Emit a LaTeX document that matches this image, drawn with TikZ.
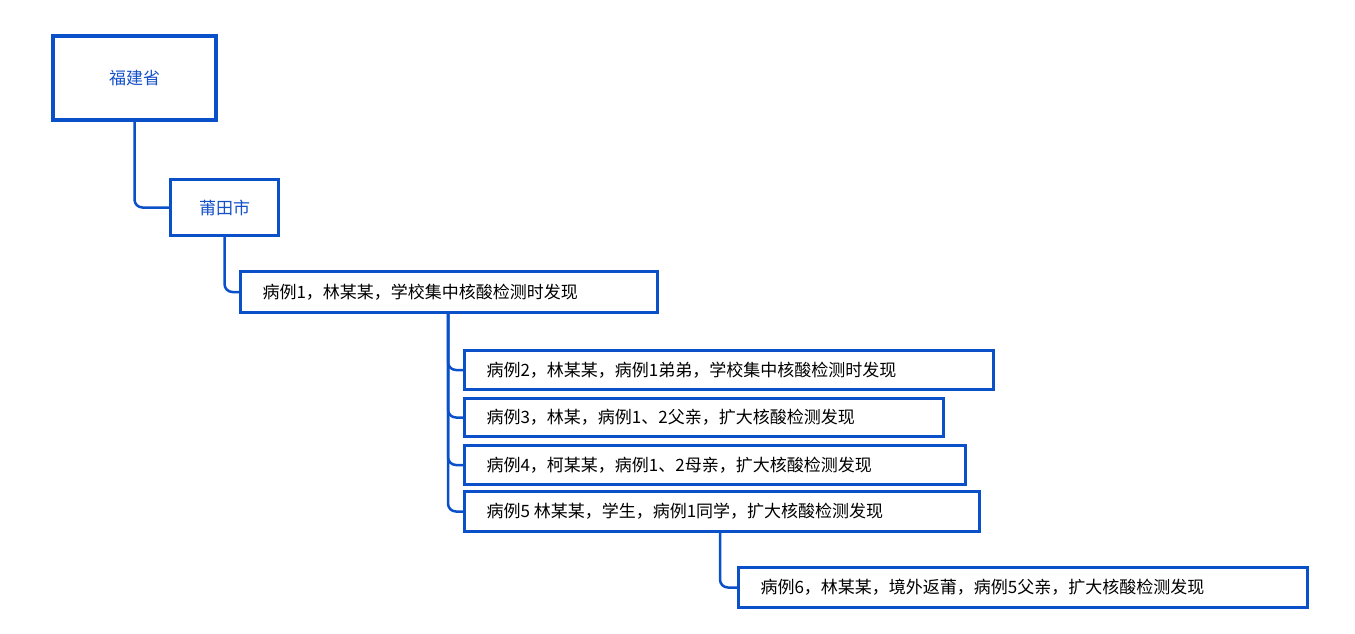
\documentclass[tikz,border=0pt]{standalone}
\usepackage{fontspec}
\setmainfont{Noto Sans CJK SC}
\begin{document}
\begin{tikzpicture}[x=1pt,y=-1pt,
  bx/.style={draw=boxblue,line width=3pt,fill=white,inner sep=0pt},
  ln/.style={draw=boxblue,line width=2.5pt,rounded corners=8pt}]
\definecolor{boxblue}{RGB}{10,80,200}
\definecolor{txtblue}{RGB}{20,80,200}
\useasboundingbox (0,0) rectangle (1355,633);
\tikzset{txt/.style={font=\fontsize{17}{20}\selectfont,anchor=west}}
\node[bx,line width=4pt,minimum width=163pt,minimum height=84pt,anchor=north west] (a) at (51,34) {};
\node[text=txtblue,font=\fontsize{17}{20}\selectfont] at (a.center) {福建省};
\node[bx,minimum width=108pt,minimum height=56pt,anchor=north west] (b) at (169,178) {};
\node[text=txtblue,font=\fontsize{17}{20}\selectfont] at (b.center) {莆田市};
\node[bx,minimum width=417pt,minimum height=41pt,anchor=north west] (c1) at (239,270) {};
\node[txt] at ([xshift=20pt]c1.west) {病例1，林某某，学校集中核酸检测时发现};
\node[bx,minimum width=529pt,minimum height=39pt,anchor=north west] (c2) at (463,349) {};
\node[txt] at ([xshift=20pt]c2.west) {病例2，林某某，病例1弟弟，学校集中核酸检测时发现};
\node[bx,minimum width=479pt,minimum height=38pt,anchor=north west] (c3) at (463,397) {};
\node[txt] at ([xshift=20pt]c3.west) {病例3，林某，病例1、2父亲，扩大核酸检测发现};
\node[bx,minimum width=501pt,minimum height=39pt,anchor=north west] (c4) at (463,444) {};
\node[txt] at ([xshift=20pt]c4.west) {病例4，柯某某，病例1、2母亲，扩大核酸检测发现};
\node[bx,minimum width=515pt,minimum height=40pt,anchor=north west] (c5) at (463,490) {};
\node[txt] at ([xshift=20pt]c5.west) {病例5 林某某，学生，病例1同学，扩大核酸检测发现};
\node[bx,minimum width=569pt,minimum height=40pt,anchor=north west] (c6) at (737,566) {};
\node[txt] at ([xshift=20pt]c6.west) {病例6，林某某，境外返莆，病例5父亲，扩大核酸检测发现};
\begin{scope}[on background layer/.style={}]
\end{scope}
\draw[ln] (a.south) |- (b.west);
\draw[ln] (b.south) |- (c1.west);
\foreach \n in {c2,c3,c4,c5} \draw[ln] (448,311) |- (\n.west);
\draw[ln] (720,530) |- (c6.west);
\end{tikzpicture}
\end{document}
